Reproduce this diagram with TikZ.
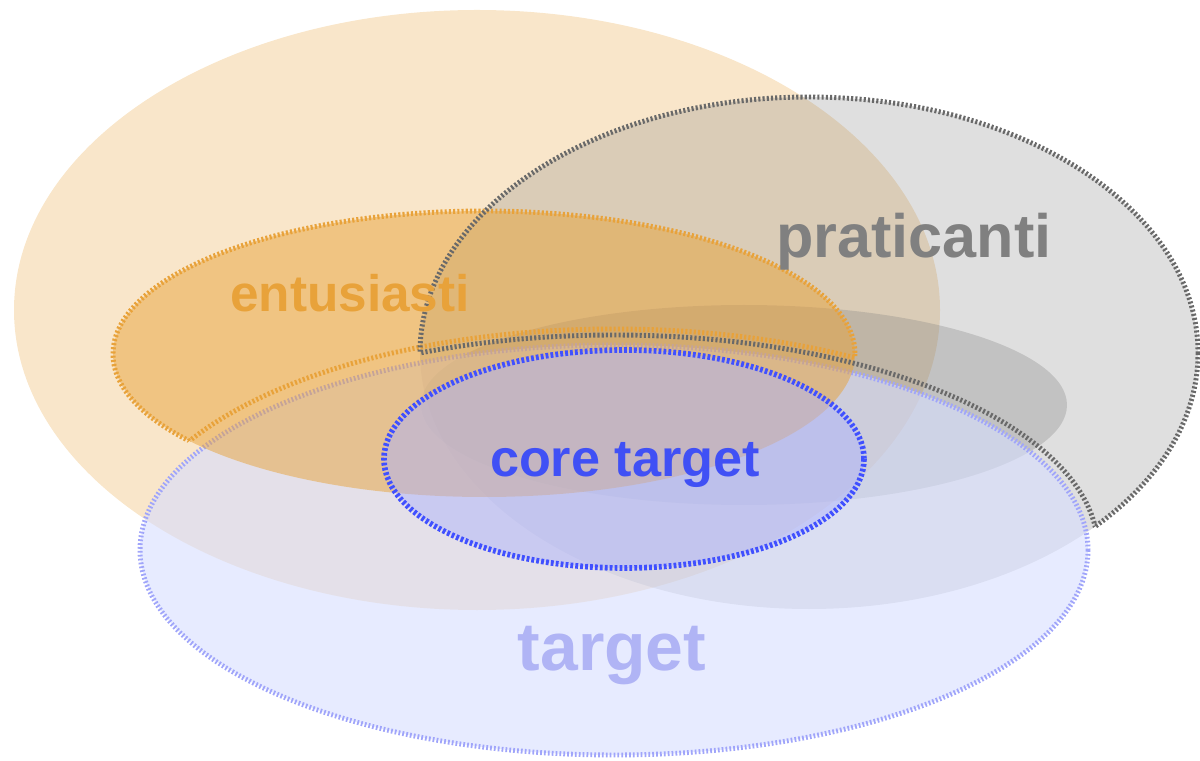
\documentclass[tikz,border=0pt]{standalone}
\usepackage{fontspec}
\setmainfont{Liberation Sans}
\begin{document}
\begin{tikzpicture}[x=0.01cm,y=-0.01cm]
\definecolor{orng}{RGB}{232,162,58}
\definecolor{gry}{RGB}{128,128,128}
\definecolor{gline}{RGB}{105,105,105}
\definecolor{tblue}{RGB}{215,222,255}
\definecolor{tline}{RGB}{160,165,250}
\definecolor{cblue}{RGB}{64,80,255}
\definecolor{clav}{RGB}{175,180,250}
\definecolor{ctext}{RGB}{64,80,245}
\definecolor{ttext}{RGB}{176,180,245}
\tikzset{
  dotline/.style={line width=1.4pt, dash pattern=on 0.6pt off 0.6pt},
  lbl/.style={anchor=base, inner sep=0pt, font=\bfseries},
}
\useasboundingbox (0,0) rectangle (1200,761);
\begin{scope}[overlay]
\clip (0,0) rectangle (1200,761);
% big light orange
\fill[orng, opacity=0.27] (477,310) ellipse [x radius=463, y radius=300];
% praticanti fill
\fill[gry, opacity=0.25] (809,353) ellipse [x radius=389, y radius=256];
% darker gray inner ellipse
\fill[gry, opacity=0.3] (744,405) ellipse [x radius=323, y radius=100];
% target
\fill[tblue, opacity=0.6] (614,550) ellipse [x radius=474, y radius=205];
\draw[tline, line width=1.4pt, dash pattern=on 0.5pt off 0.6pt] (614,550) ellipse [x radius=474, y radius=205];
% entusiasti fill
\fill[orng, opacity=0.5] (484,354) ellipse [x radius=371, y radius=143];
% core fill
\fill[clav, opacity=0.5] (624,459) ellipse [x radius=240, y radius=109];
% entusiasti outline: outer arc
\begin{scope}
  \clip (126,550) arc[start angle=180, end angle=360, x radius=488, y radius=221] -- (1300,550) -- (1300,-100) -- (-100,-100) -- (-100,550) -- cycle;
  \draw[orng, dotline] (484,354) ellipse [x radius=371, y radius=143];
\end{scope}
% entusiasti outline: lower line
\begin{scope}
  \clip (484,354) ellipse [x radius=371, y radius=143];
  \draw[orng, dotline] (614,550) ellipse [x radius=488, y radius=221];
\end{scope}
% praticanti outline: outer arc
\begin{scope}
  \clip (130,550) arc[start angle=180, end angle=360, x radius=484, y radius=215] -- (1300,550) -- (1300,-100) -- (-100,-100) -- (-100,550) -- cycle;
  \draw[gline, dotline] (809,353) ellipse [x radius=389, y radius=256];
\end{scope}
% praticanti outline: lower line
\begin{scope}
  \clip (809,353) ellipse [x radius=389, y radius=256];
  \draw[gline, dotline] (614,550) ellipse [x radius=484, y radius=215];
\end{scope}
% core outline
\draw[cblue, line width=1.6pt, dash pattern=on 0.8pt off 0.6pt] (624,459) ellipse [x radius=240, y radius=109];
% labels
\node[lbl, text=orng, font=\bfseries\fontsize{14.6}{16}\selectfont] (ent) at (350,312) {entusiasti};
\node[lbl, text=gry, font=\bfseries\fontsize{17.4}{20}\selectfont] (pra) at (914,258) {praticanti};
\node[lbl, text=ctext, font=\bfseries\fontsize{14.85}{17}\selectfont] (core) at (625,477) {core target};
\node[lbl, text=ttext, font=\bfseries\fontsize{19.3}{22}\selectfont] (tgt) at (612,670) {target};
\end{scope}
\end{tikzpicture}
\end{document}
